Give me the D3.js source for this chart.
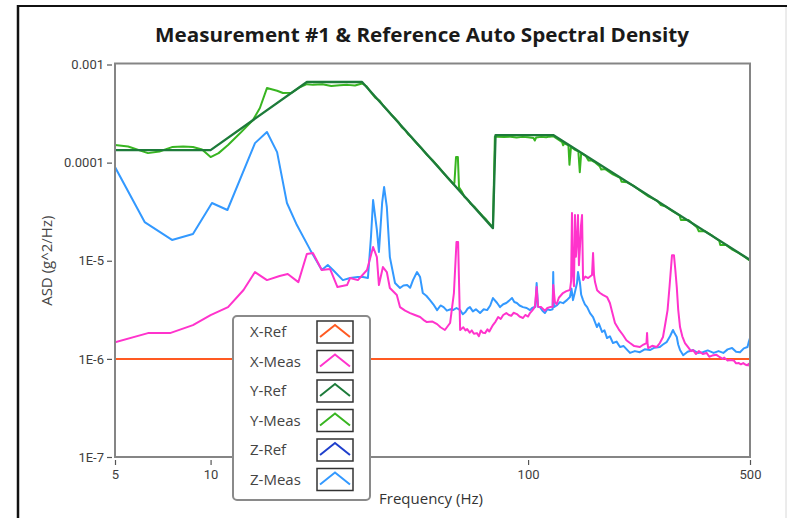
<!DOCTYPE html>
<html>
<head>
<meta charset="utf-8">
<script src="https://cdn.jsdelivr.net/npm/d3@7"></script>
<style>
  html, body { margin: 0; padding: 0; background: #fff; }
  svg { display: block; }
</style>
</head>
<body>
<svg id="chart" width="787" height="518"></svg>
<script>
// Auto spectral density traces, [frequency Hz, ASD g^2/Hz]
const xRef = [[5, 1e-6], [500, 1e-6]];

const xMeas = [
  [5, 1.48e-6], [6.35, 1.83e-6], [7.45, 1.83e-6], [8.8, 2.21e-6], [10, 2.79e-6],
  [11.35, 3.37e-6], [12.7, 5.03e-6], [13.8, 7.67e-6], [15.05, 6.35e-6], [16.5, 6.98e-6],
  [17.5, 7.32e-6], [18.9, 6.06e-6], [20.1, 1.17e-5], [21.0, 1.2e-5], [22.4, 8.04e-6],
  [23.8, 8.23e-6], [25.1, 5.39e-6], [26.9, 5.65e-6], [27.5, 6.66e-6], [29.1, 6.35e-6],
  [31.1, 8.04e-6], [32.5, 1.38e-5], [33.4, 1.09e-5], [33.9, 5.65e-6], [34.9, 8.63e-6],
  [35.9, 7.67e-6], [36.7, 5.27e-6], [38.6, 4.47e-6], [39.5, 3.37e-6], [41, 3.1e-6],
  [42.5, 2.93e-6], [44, 2.8e-6], [45.7, 2.67e-6], [46.8, 2.5e-6], [48.0, 2.37e-6],
  [50, 2.4e-6], [51.7, 2.26e-6], [53, 2.1e-6], [54.7, 1.97e-6], [56.8, 2.32e-6],
  [58.4, 4.69e-6], [59.5, 1.55e-5], [60.2, 1.55e-5], [61.1, 1.97e-6], [62.5, 2.1e-6],
  [63.5, 1.95e-6], [64.3, 2.01e-6], [65.5, 1.85e-6], [66.5, 1.95e-6], [67.5, 1.8e-6],
  [69, 1.83e-6], [70, 1.7e-6], [71, 1.95e-6], [72, 1.85e-6], [73.2, 1.83e-6],
  [74.5, 2.0e-6], [75.5, 1.9e-6], [77.5, 2.21e-6], [79, 2.4e-6], [80.5, 2.67e-6],
  [82, 2.55e-6], [83.5, 2.8e-6], [85.4, 2.93e-6], [87, 2.8e-6], [88.5, 2.75e-6],
  [90, 2.95e-6], [92.2, 2.86e-6], [94, 2.7e-6], [96.4, 2.61e-6], [98, 2.8e-6],
  [100, 2.7e-6], [101.4, 2.93e-6], [103, 3.1e-6], [105, 3.37e-6], [106.4, 5.39e-6],
  [107.5, 3.4e-6], [110, 3.37e-6], [113, 3.1e-6], [115, 3.3e-6], [117.2, 3.37e-6],
  [119.5, 3.4e-6], [120, 5.65e-6], [121.5, 3.79e-6], [123, 3.6e-6], [125, 4.2e-6],
  [128.8, 4.69e-6], [132, 4.9e-6], [135.5, 5.03e-6], [136.6, 6.2e-6], [137.5, 3.06e-5],
  [138.4, 7.5e-6], [139.5, 5.5e-6], [140.5, 2.92e-5], [141.5, 1.1e-5], [142.6, 1.63e-5],
  [143.6, 2.92e-5], [144.6, 9.0e-6], [145.7, 1.38e-5], [146.8, 2.3e-5], [147.9, 2.92e-5],
  [149, 6.35e-6], [151.5, 6.9e-6], [154.6, 6.66e-6], [159, 7.15e-6], [160.2, 1.2e-5],
  [161.3, 7.2e-6], [162.5, 6.06e-6], [165, 5.0e-6], [168.5, 4.69e-6], [172, 4.5e-6],
  [177.3, 4.27e-6], [181, 3.71e-6], [184, 3.0e-6], [187.8, 2.32e-6], [193, 2.0e-6],
  [199, 1.75e-6], [204, 1.55e-6], [209.4, 1.45e-6], [216, 1.35e-6], [225, 1.32e-6],
  [231, 1.4e-6], [236, 1.45e-6], [237, 1.83e-6], [238, 1.4e-6], [239, 1.29e-6],
  [246, 1.36e-6], [254, 1.32e-6], [260, 1.45e-6], [266, 1.67e-6], [270, 2.2e-6],
  [275, 3.14e-6], [279, 5.5e-6], [284, 1.14e-5], [288, 1.14e-5], [291, 8.0e-6],
  [294, 5.39e-6], [297, 3.2e-6], [301, 2.11e-6], [306, 1.7e-6], [312, 1.45e-6],
  [320, 1.3e-6], [326, 1.2e-6], [331, 1.23e-6], [338, 1.12e-6], [345, 1.2e-6],
  [355, 1.12e-6], [365, 1.15e-6], [372, 1.05e-6], [380, 1.08e-6], [392, 1.1e-6],
  [402, 1.04e-6], [410, 1.0e-6], [415, 1.03e-6], [425, 9.6e-7], [432, 9.73e-7],
  [445, 9.6e-7], [452, 9.0e-7], [460, 9.1e-7], [468, 8.8e-7], [476, 9.06e-7],
  [485, 8.7e-7], [490, 8.6e-7], [495, 8.9e-7], [500, 8.26e-7]
];

const yRef = [
  [5, 1.34e-4], [10, 1.34e-4], [20.1, 6.63e-4], [30, 6.63e-4],
  [77.5, 2.15e-5], [79, 1.91e-4], [120, 1.91e-4], [500, 1.02e-5]
];

const yMeas = [
  [5, 1.51e-4], [5.5, 1.46e-4], [6.35, 1.25e-4], [6.9, 1.3e-4], [7.56, 1.44e-4],
  [8.2, 1.46e-4], [8.8, 1.44e-4], [9.4, 1.36e-4], [10, 1.14e-4], [10.6, 1.25e-4],
  [11.35, 1.51e-4], [12.4, 2.0e-4], [13.6, 2.72e-4], [14.3, 3.6e-4], [15.05, 5.75e-4],
  [16.2, 5.4e-4], [16.9, 5.12e-4], [18, 5.15e-4], [19, 5.8e-4], [20.1, 6.3e-4],
  [21, 6.2e-4], [22.5, 6.3e-4], [24, 6.05e-4], [25.5, 6.15e-4], [27, 6.2e-4],
  [28.5, 6.1e-4], [30, 6.4e-4], [31, 6.0e-4], [32, 5.2e-4], [33, 4.6e-4],
  [34, 4.3e-4], [35, 3.8e-4], [36, 3.45e-4], [37, 3.1e-4], [38, 2.85e-4],
  [39, 2.6e-4], [40, 2.3e-4], [41, 2.15e-4], [42, 1.93e-4], [43, 1.8e-4],
  [44, 1.65e-4], [45, 1.52e-4], [46, 1.42e-4], [47, 1.3e-4], [48, 1.2e-4],
  [50, 1.06e-4], [52, 9.2e-5], [54, 7.9e-5], [56, 6.9e-5], [58, 6.1e-5],
  [58.6, 6.2e-5], [58.9, 8.0e-5], [59.3, 1.14e-4], [60.1, 1.14e-4], [60.6, 5.6e-5],
  [62, 5.0e-5], [63, 4.5e-5], [64, 4.3e-5], [65, 4.1e-5], [66, 3.8e-5],
  [68, 3.5e-5], [70, 3.15e-5], [72, 2.85e-5], [74, 2.6e-5], [76, 2.35e-5],
  [77.5, 2.2e-5], [78.6, 1.85e-4], [80, 1.84e-4], [84, 1.82e-4], [88, 1.84e-4],
  [92, 1.8e-4], [96, 1.83e-4], [100, 1.81e-4], [104, 1.78e-4], [105, 1.68e-4],
  [106, 1.8e-4], [110, 1.83e-4], [114, 1.81e-4], [117, 1.84e-4], [120, 1.86e-4],
  [125, 1.7e-4], [128, 1.62e-4], [129, 1.5e-4], [130, 1.6e-4], [131, 1.55e-4],
  [134, 1.5e-4], [135, 9.5e-5], [136.5, 1.45e-4], [140, 1.36e-4], [144, 1.3e-4],
  [145.5, 8.0e-5], [147, 1.25e-4], [152, 1.17e-4], [155, 1.05e-4], [158, 1.06e-4],
  [163, 1.0e-4], [168, 9.2e-5], [170, 8.5e-5], [175, 8.6e-5], [185, 7.6e-5],
  [195, 7.0e-5], [197, 6.4e-5], [205, 6.3e-5], [215, 5.8e-5], [225, 5.2e-5],
  [240, 4.5e-5], [255, 4.1e-5], [262, 3.7e-5], [270, 3.6e-5], [285, 3.2e-5],
  [300, 2.9e-5], [303, 2.6e-5], [320, 2.6e-5], [340, 2.2e-5], [345, 2.0e-5],
  [360, 2.0e-5], [380, 1.8e-5], [400, 1.6e-5], [403, 1.45e-5], [420, 1.45e-5],
  [440, 1.3e-5], [460, 1.2e-5], [480, 1.1e-5], [500, 1.0e-5]
];

const zRef = [];

const zMeas = [
  [5, 9.02e-5], [6.2, 2.48e-5], [7.56, 1.63e-5], [8.8, 1.87e-5], [10.1, 3.88e-5],
  [11.3, 3.29e-5], [13.8, 1.58e-4], [15.05, 2.05e-4], [16.2, 1.28e-4], [17.4, 3.88e-5],
  [18.7, 2.31e-5], [20.6, 1.29e-5], [22.4, 8.04e-6], [23.4, 9.03e-6], [24.3, 8.04e-6],
  [26.1, 6.35e-6], [27.5, 6.66e-6], [29.1, 6.82e-6], [30.2, 6.82e-6], [31.3, 6.66e-6],
  [32.0, 1.74e-5], [32.5, 4.16e-5], [33.4, 2.06e-5], [33.9, 1.23e-5], [34.7, 3.88e-5],
  [35.2, 5.64e-5], [35.9, 3.53e-5], [36.7, 1.09e-5], [38.1, 5.93e-6], [39.5, 5.27e-6],
  [40.5, 5.6e-6], [41.6, 5.65e-6], [42.5, 5.3e-6], [43.4, 6.35e-6], [44.7, 7.67e-6],
  [45.7, 6.82e-6], [46.6, 4.69e-6], [47.8, 4.4e-6], [49.1, 3.97e-6], [50.3, 3.6e-6],
  [51.7, 3.14e-6], [53, 3.5e-6], [54.2, 3.37e-6], [55.5, 3.1e-6], [57, 3.2e-6],
  [58, 3.14e-6], [59.5, 3.3e-6], [61.1, 3.14e-6], [62.3, 2.85e-6], [63.5, 3.0e-6],
  [64.5, 3.25e-6], [65.6, 3.37e-6], [67, 3.05e-6], [68.5, 3.2e-6], [70.6, 2.93e-6],
  [72.5, 3.2e-6], [74.3, 3.14e-6], [76, 3.5e-6], [77.5, 4.17e-6], [79.9, 3.71e-6],
  [81.6, 3.37e-6], [83.5, 3.6e-6], [85.4, 3.71e-6], [87, 3.9e-6], [89.0, 4.17e-6],
  [90.5, 3.8e-6], [92.2, 3.71e-6], [94, 3.5e-6], [96.4, 3.37e-6], [99, 3.3e-6],
  [101.4, 3.14e-6], [103, 3.3e-6], [105.5, 3.4e-6], [106.4, 5.93e-6], [107.5, 3.4e-6],
  [109, 3.37e-6], [111, 3.1e-6], [113, 2.93e-6], [115, 3.2e-6], [117.2, 3.14e-6],
  [119.5, 3.2e-6], [120, 7.67e-6], [120.6, 3.37e-6], [123, 3.5e-6], [126, 3.79e-6],
  [129, 3.7e-6], [132.5, 3.97e-6], [135.5, 4.27e-6], [137, 5.2e-6], [138.5, 3.97e-6],
  [140.5, 4.8e-6], [142.6, 5.93e-6], [143.6, 7.67e-6], [145.7, 5.93e-6], [147, 4.5e-6],
  [149, 3.97e-6], [151, 3.6e-6], [153.5, 3.37e-6], [156.7, 2.93e-6], [160.2, 2.67e-6],
  [164.8, 2.11e-6], [167, 2.3e-6], [171, 1.88e-6], [174, 1.95e-6], [177.3, 1.63e-6],
  [181, 1.7e-6], [185.1, 1.45e-6], [190, 1.5e-6], [194.8, 1.32e-6], [200, 1.35e-6],
  [209.4, 1.15e-6], [217, 1.2e-6], [225, 1.17e-6], [233, 1.25e-6], [242, 1.23e-6],
  [250, 1.3e-6], [260, 1.32e-6], [266, 1.4e-6], [273, 1.48e-6], [280, 1.7e-6],
  [286, 1.97e-6], [290, 1.8e-6], [294, 1.67e-6], [297, 1.4e-6], [301, 1.23e-6],
  [308, 1.09e-6], [318, 1.18e-6], [331, 1.23e-6], [342, 1.15e-6], [355, 1.17e-6],
  [368, 1.22e-6], [384, 1.15e-6], [398, 1.2e-6], [412, 1.15e-6], [425, 1.25e-6],
  [439, 1.29e-6], [452, 1.18e-6], [465, 1.17e-6], [478, 1.28e-6], [491, 1.32e-6],
  [496, 1.5e-6], [500, 1.63e-6]
];

const seriesNames = ["X-Ref", "X-Meas", "Y-Ref", "Y-Meas", "Z-Ref", "Z-Meas"];
const seriesColors = ["#ff5a22", "#ff33cc", "#1d7b3a", "#38b521", "#1f3fcc", "#3399ff"];
const seriesData = [xRef, xMeas, yRef, yMeas, zRef, zMeas];
const drawOrder = [0, 5, 1, 3, 2];   // later traces sit on top

const yTickValues = [1e-3, 1e-4, 1e-5, 1e-6, 1e-7];
const yTickLabels = ["0.001", "0.0001", "1E-5", "1E-6", "1E-7"];
const xTickValues = [5, 10, 100, 500];
const xTickLabels = ["5", "10", "100", "500"];

const titleText = "Measurement #1 & Reference Auto Spectral Density";
const xAxisTitle = "Frequency (Hz)";
const yAxisTitle = "ASD (g^2/Hz)";

// ---- layout ----
const svg = d3.select("#chart");
const plot = { left: 115, right: 750, top: 64.5, bottom: 457 };

const x = d3.scaleLog().domain([5, 500]).range([plot.left, plot.right]);
const y = d3.scaleLog().domain([1e-7, 1e-3]).range([plot.bottom, plot.top]);

// outer panel frame
svg.append("line").attr("x1", 18).attr("x2", 18).attr("y1", 5).attr("y2", 518)
  .attr("stroke", "#111").attr("stroke-width", 2.5);
svg.append("line").attr("x1", 17).attr("x2", 787).attr("y1", 6).attr("y2", 6)
  .attr("stroke", "#111").attr("stroke-width", 2.2);
svg.append("line").attr("x1", 786).attr("x2", 786).attr("y1", 7).attr("y2", 518)
  .attr("stroke", "#d8d8d8").attr("stroke-width", 1);

// title
svg.append("text")
  .attr("x", 422).attr("y", 42)
  .attr("text-anchor", "middle")
  .attr("font-family", "'Open Sans', 'DejaVu Sans', sans-serif")
  .attr("font-weight", "bold")
  .attr("font-size", 19.5)
  .attr("fill", "#1a1a1a")
  .attr("textLength", 534)
  .attr("lengthAdjust", "spacingAndGlyphs")
  .text(titleText);

// clip for traces
svg.append("defs").append("clipPath").attr("id", "plotClip")
  .append("rect")
  .attr("x", plot.left).attr("y", plot.top - 2)
  .attr("width", plot.right - plot.left).attr("height", plot.bottom - plot.top + 2);

// traces
const line = d3.line()
  .x(d => x(d[0]))
  .y(d => y(d[1]))
  .curve(d3.curveLinear);

const traces = svg.append("g").attr("clip-path", "url(#plotClip)");
drawOrder.forEach(i => {
  if (!seriesData[i].length) return;
  traces.append("path")
    .datum(seriesData[i])
    .attr("d", line)
    .attr("fill", "none")
    .attr("stroke", seriesColors[i])
    .attr("stroke-width", i === 2 ? 2.3 : 2)
    .attr("stroke-linejoin", "round");
});

// plot frame
svg.append("rect")
  .attr("x", plot.left).attr("y", plot.top - 1)
  .attr("width", plot.right - plot.left)
  .attr("height", plot.bottom - plot.top + 1)
  .attr("fill", "none")
  .attr("stroke", "#858585")
  .attr("stroke-width", 2);

// axes
const tickFont = "Roboto, 'DejaVu Sans', sans-serif";

const yAxis = d3.axisLeft(y)
  .tickValues(yTickValues)
  .tickFormat((d, i) => yTickLabels[i])
  .tickSize(5)
  .tickPadding(3);
const gy = svg.append("g").attr("transform", `translate(${plot.left - 3},0)`).call(yAxis);
gy.select(".domain").remove();
gy.selectAll(".tick line").attr("stroke", "#555").attr("stroke-width", 1.2);
gy.selectAll(".tick text")
  .attr("font-family", tickFont).attr("font-size", 13).attr("fill", "#3d3d3d");

const xAxis = d3.axisBottom(x)
  .tickValues(xTickValues)
  .tickFormat((d, i) => xTickLabels[i])
  .tickSize(5)
  .tickPadding(5);
const gx = svg.append("g").attr("transform", `translate(0,${plot.bottom + 3})`).call(xAxis);
gx.select(".domain").remove();
gx.selectAll(".tick line").attr("stroke", "#555").attr("stroke-width", 1.2);
gx.selectAll(".tick text")
  .attr("font-family", tickFont).attr("font-size", 13).attr("fill", "#3d3d3d");

// axis titles
svg.append("text")
  .attr("transform", `translate(52,${(plot.top + plot.bottom) / 2}) rotate(-90)`)
  .attr("text-anchor", "middle")
  .attr("font-family", "'Open Sans', sans-serif")
  .attr("font-size", 15)
  .attr("fill", "#444")
  .text(yAxisTitle);

svg.append("text")
  .attr("x", 431).attr("y", 504)
  .attr("text-anchor", "middle")
  .attr("font-family", "'Open Sans', sans-serif")
  .attr("font-size", 15)
  .attr("fill", "#333")
  .text(xAxisTitle);

// legend
const legend = svg.append("g");
legend.append("rect")
  .attr("x", 233).attr("y", 316).attr("width", 137).attr("height", 184)
  .attr("rx", 4)
  .attr("fill", "#fff")
  .attr("stroke", "#8a8a8a")
  .attr("stroke-width", 2);

const rowY = d3.scaleLinear().domain([0, 1]).range([332, 361.5]);
seriesNames.forEach((name, i) => {
  const cy = rowY(i);
  legend.append("text")
    .attr("x", 250).attr("y", cy)
    .attr("dy", "0.36em")
    .attr("font-family", "'Open Sans', sans-serif")
    .attr("font-size", 15)
    .attr("fill", "#444")
    .text(name);
  const bx = 317, bw = 36, bh = 22, by = cy - 11;
  legend.append("rect")
    .attr("x", bx).attr("y", by).attr("width", bw).attr("height", bh)
    .attr("fill", "#fff")
    .attr("stroke", "#333")
    .attr("stroke-width", 1.5);
  legend.append("polyline")
    .attr("points", `${bx + 3},${by + 16} ${bx + bw / 2},${by + 4} ${bx + bw - 3},${by + 16}`)
    .attr("fill", "none")
    .attr("stroke", seriesColors[i])
    .attr("stroke-width", 2);
});
</script>
</body>
</html>
